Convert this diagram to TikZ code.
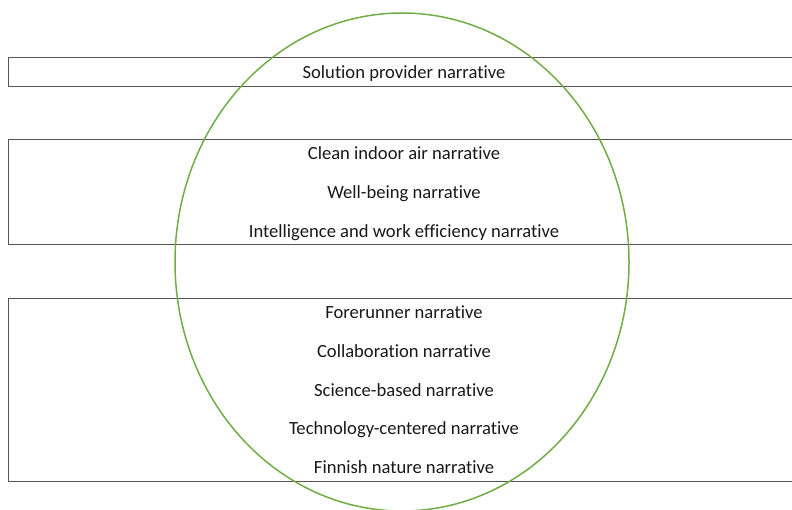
\documentclass[tikz,border=0pt]{standalone}
\usepackage{fontspec}
\setmainfont{Carlito}[Ligatures=NoCommon]
\usetikzlibrary{positioning,shapes.geometric}
\definecolor{BandGray}{RGB}{85,85,85}
\definecolor{RingGreen}{RGB}{112,173,71}
\definecolor{TextBlack}{RGB}{25,25,25}
\tikzset{
  band/.style={draw=BandGray,line width=1pt,minimum width=792pt,
    inner sep=0pt,anchor=north west},
  narr/.style={font=\fontsize{18.6}{22}\selectfont,text=TextBlack,
    inner sep=0pt,text height=14pt,text depth=4pt},
  ring/.style={ellipse,draw=RingGreen,line width=1.5pt,
    minimum width=454pt,minimum height=498pt,inner sep=0pt}
}
\begin{document}
\begin{tikzpicture}[x=1pt,y=-1pt,node distance=20.2pt]
  \useasboundingbox (0,0) rectangle (792,510);
  % bands
  \node[band,minimum height=29pt] (provider) at (8,57) {};
  \node[band,minimum height=105pt] (benefits) at (8,139) {};
  \node[band,minimum height=183pt] (identity) at (8,298) {};
  % ring
  \node[ring] (ring) at (402,262) {};
  % narratives
  \node[narr] (solution) at (404,73.5) {Solution provider narrative};
  \node[narr] (clean) at (404,155) {Clean indoor air narrative};
  \node[narr,below=of clean] (wellbeing) {Well-being narrative};
  \node[narr,below=of wellbeing] (intel) {Intelligence and work efficiency narrative};
  \node[narr] (forerunner) at (404,314) {Forerunner narrative};
  \node[narr,below=of forerunner] (collab) {Collaboration narrative};
  \node[narr,below=of collab] (science) {Science-based narrative};
  \node[narr,below=of science] (techno) {Technology-centered narrative};
  \node[narr,below=of techno] (finnish) {Finnish nature narrative};
\end{tikzpicture}
\end{document}
